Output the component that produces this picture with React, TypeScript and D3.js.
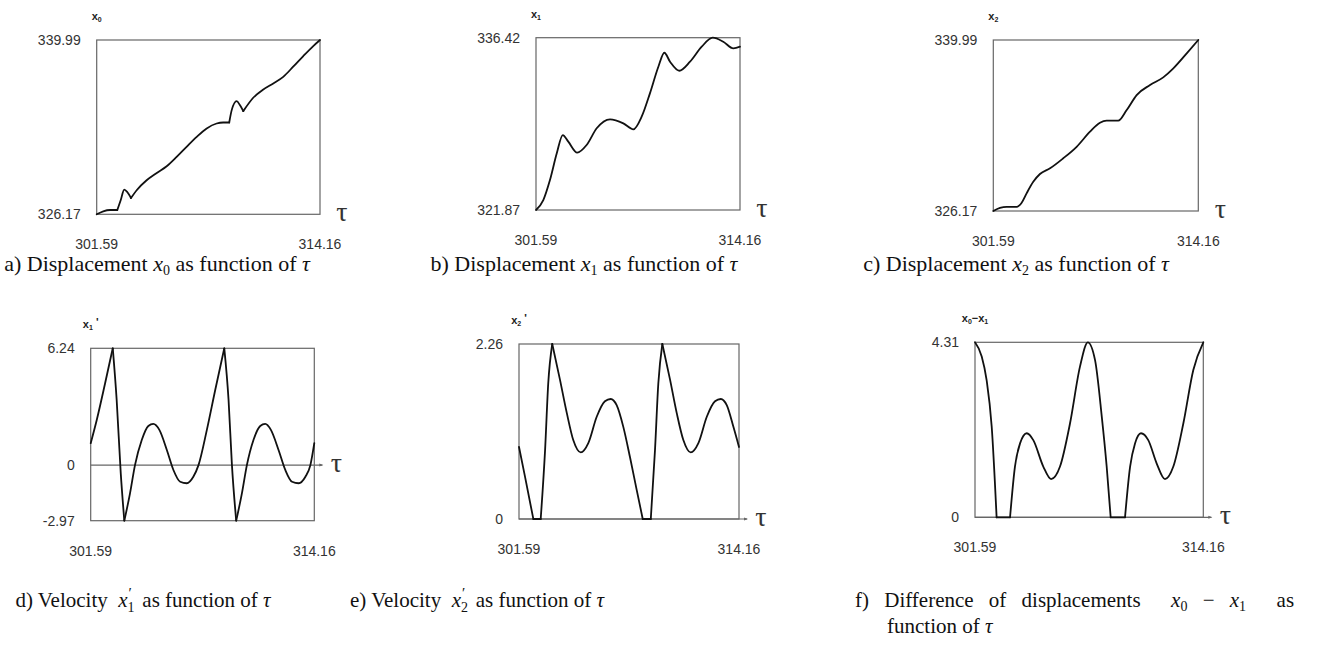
import React from 'react';
import * as d3 from 'd3';

type Pt = [number, number];

// tau range shown on every panel
const tauDomain: Pt = [301.59, 314.16];
const tauTicks = [301.59, 314.16];

// a) displacement x0
const x0Data: Pt[] = [
  [301.59, 326.17], [301.96, 326.41], [302.34, 326.51], [302.75, 326.51],
  [302.94, 327.28], [303.14, 328.13], [303.31, 327.94], [303.52, 327.46],
  [303.84, 328.08], [304.40, 328.87], [304.97, 329.45], [305.53, 329.98],
  [306.09, 330.72], [306.65, 331.52], [307.22, 332.31], [307.78, 332.98],
  [308.34, 333.37], [308.71, 333.45], [309.05, 333.45], [309.19, 334.43],
  [309.47, 335.14], [309.65, 334.83], [309.84, 334.35], [310.40, 335.41],
  [310.97, 336.07], [311.53, 336.55], [312.09, 337.07], [312.65, 337.87],
  [313.22, 338.72], [313.78, 339.51], [314.16, 339.99],
];
const x0Corners = [302.75, 303.52, 309.05, 309.84];
const x0Ticks = [326.17, 339.99];

// b) displacement x1
const x1Data: Pt[] = [
  [301.59, 321.87], [302.04, 322.71], [302.45, 324.40], [302.87, 326.66],
  [303.24, 328.20], [303.58, 327.64], [304.13, 326.71], [304.71, 327.36],
  [305.33, 328.77], [306.15, 329.53], [306.97, 329.19], [307.59, 328.68],
  [308.10, 329.75], [308.61, 331.72], [309.13, 333.97], [309.50, 335.15],
  [309.85, 334.39], [310.42, 333.63], [311.08, 334.39], [311.80, 335.66],
  [312.48, 336.42], [313.13, 336.08], [313.75, 335.52], [314.16, 335.66],
];
const x1Corners: number[] = [];
const x1Ticks = [321.87, 336.42];

// c) displacement x2
const x2Data: Pt[] = [
  [301.59, 326.17], [302.00, 326.43], [302.41, 326.51], [303.02, 326.51],
  [303.33, 326.84], [303.64, 327.62], [304.04, 328.53], [304.45, 329.16],
  [305.07, 329.62], [305.88, 330.43], [306.70, 331.36], [307.52, 332.58],
  [308.13, 333.30], [308.54, 333.47], [309.25, 333.47], [309.77, 334.33],
  [310.38, 335.54], [311.20, 336.35], [312.01, 336.97], [312.63, 337.70],
  [313.45, 338.91], [314.16, 339.99],
];
const x2Corners: number[] = [];
const x2Ticks = [326.17, 339.99];

// d) velocity x1'
const v1Data: Pt[] = [
  [301.59, 1.17], [301.93, 2.41], [302.40, 4.37], [302.83, 6.24],
  [303.05, 3.48], [303.28, -0.44], [303.48, -2.97], [303.80, -1.51],
  [304.08, 0.0], [304.46, 1.34], [304.83, 2.09], [305.11, 2.2],
  [305.45, 1.88], [305.87, 0.81], [306.24, -0.26], [306.62, -0.89],
  [306.99, -0.97], [307.36, -0.62], [307.65, 0.0], [308.12, 1.88],
  [308.59, 4.01], [309.10, 6.24], [309.34, 3.48], [309.53, 0.0],
  [309.77, -2.97], [310.09, -1.51], [310.37, 0.0], [310.74, 1.34],
  [311.12, 2.09], [311.40, 2.2], [311.72, 1.88], [312.15, 0.81],
  [312.53, -0.26], [312.91, -0.89], [313.28, -0.97], [313.66, -0.62],
  [313.94, 0.0], [314.16, 1.17],
];
const v1Corners = [302.83, 303.48, 309.10, 309.77];
const v1Ticks = [-2.97, 0, 6.24];

// e) velocity x2'
const v2Data: Pt[] = [
  [301.59, 0.93], [301.93, 0.55], [302.41, 0], [302.83, 0],
  [303.08, 0.89], [303.26, 1.75], [303.49, 2.26], [303.93, 1.8],
  [304.32, 1.37], [304.69, 1.02], [305.12, 0.86], [305.55, 0.98],
  [306.03, 1.32], [306.50, 1.52], [306.83, 1.55], [307.17, 1.47],
  [307.55, 1.19], [307.93, 0.8], [308.32, 0.37], [308.66, 0],
  [309.12, 0], [309.36, 0.89], [309.55, 1.75], [309.78, 2.26],
  [310.22, 1.8], [310.60, 1.37], [310.98, 1.02], [311.40, 0.86],
  [311.84, 0.98], [312.32, 1.32], [312.79, 1.52], [313.12, 1.55],
  [313.46, 1.47], [313.84, 1.19], [314.16, 0.93],
];
const v2Corners = [302.41, 302.83, 303.49, 308.66, 309.12, 309.78];
const v2Ticks = [0, 2.26];

// f) difference x0 - x1
const dxData: Pt[] = [
  [301.59, 4.31], [301.96, 3.96], [302.23, 3.38], [302.51, 2.23],
  [302.78, 0], [303.52, 0], [303.79, 1.25], [304.07, 1.82],
  [304.44, 2.07], [304.80, 1.9], [305.35, 1.25], [305.78, 0.94],
  [306.27, 1.25], [306.82, 2.31], [307.37, 3.71], [307.80, 4.31],
  [308.20, 3.87], [308.57, 2.48], [308.84, 1.25], [309.06, 0],
  [309.85, 0], [310.13, 1.25], [310.40, 1.82], [310.73, 2.07],
  [311.13, 1.9], [311.59, 1.33], [312.05, 0.94], [312.51, 1.25],
  [313.06, 2.31], [313.61, 3.63], [314.16, 4.31],
];
const dxCorners = [302.78, 303.52, 309.06, 309.85];
const dxTicks = [0, 4.31];

const SANS = 'Liberation Sans, Arial, sans-serif';
const SERIF = 'Liberation Serif, Times New Roman, serif';

const splitAt = (pts: Pt[], corners: number[]) => {
  const segs: Pt[][] = [[]];
  pts.forEach(p => {
    segs[segs.length - 1].push(p);
    if (corners.includes(p[0])) segs.push([p]);
  });
  return segs.filter(s => s.length > 1);
};

const fmt = (v: number) => (v === 0 ? '0' : v.toFixed(2));

const Panel = ({ data, corners, ticks, box, name, axisAtZero }: any) => {
  const xs = d3.scaleLinear().domain(tauDomain).range([box.l, box.r]);
  const ys = d3.scaleLinear().domain([ticks[0], ticks[ticks.length - 1]]).range([box.b, box.t]);
  const line = d3.line<Pt>().x(p => xs(p[0])).y(p => ys(p[1])).curve(d3.curveMonotoneX);
  const segs = splitAt(data, corners);
  const zeroY = ys(0);
  return (
    <g>
      <rect x={box.l} y={box.t} width={box.r - box.l} height={box.b - box.t}
        fill="none" stroke="#666" strokeWidth={1.2} />
      {axisAtZero && (
        <g>
          <line x1={box.l} x2={box.r + 8} y1={zeroY} y2={zeroY} stroke="#666" strokeWidth={1.2} />
          <path d={`M${box.r + 5},${zeroY - 1.5}L${box.r + 9},${zeroY}L${box.r + 5},${zeroY + 1.5}Z`} fill="#666" />
        </g>
      )}
      <text x={box.r + 22} y={(axisAtZero ? zeroY : box.b) + 7} textAnchor="middle"
        fontFamily={SERIF} fontSize={28} fill="#333">τ</text>
      {segs.map((s, i) => (
        <path key={i} d={line(s) || ''} fill="none" stroke="#111" strokeWidth={1.8}
          strokeLinejoin="round" strokeLinecap="round" />
      ))}
      {ticks.map((t: number) => (
        <text key={t} x={box.l - 16} y={ys(t) + 5} textAnchor="end"
          fontFamily={SANS} fontSize={14} fill="#333">{fmt(t)}</text>
      ))}
      {tauTicks.map(t => (
        <text key={t} x={xs(t)} y={box.b + 35} textAnchor="middle"
          fontFamily={SANS} fontSize={14} fill="#333">{fmt(t)}</text>
      ))}
      <text x={box.l} y={box.t - 20} textAnchor="middle" fontFamily={SANS} fontSize={11}
        fontWeight={600} fill="#222">{name}</text>
    </g>
  );
};

const sub = (s: string) => <tspan fontSize={7} dy={2}>{s}</tspan>;

const panels = [
  { key: 'a', data: x0Data, corners: x0Corners, ticks: x0Ticks, box: { l: 96.7, r: 320, t: 40, b: 214.3 },
    name: <>x{sub('0')}</> },
  { key: 'b', data: x1Data, corners: x1Corners, ticks: x1Ticks, box: { l: 536, r: 740, t: 37.7, b: 210 },
    name: <>x{sub('1')}</> },
  { key: 'c', data: x2Data, corners: x2Corners, ticks: x2Ticks, box: { l: 993.3, r: 1198.3, t: 40, b: 211 },
    name: <>x{sub('2')}</> },
  { key: 'd', data: v1Data, corners: v1Corners, ticks: v1Ticks, box: { l: 90.7, r: 314.3, t: 348.3, b: 520.7 },
    name: <>x{sub('1')}<tspan dy={-4}> '</tspan></>, axisAtZero: true },
  { key: 'e', data: v2Data, corners: v2Corners, ticks: v2Ticks, box: { l: 519, r: 739, t: 344, b: 519 },
    name: <>x{sub('2')}<tspan dy={-4}> '</tspan></>, axisAtZero: true },
  { key: 'f', data: dxData, corners: dxCorners, ticks: dxTicks, box: { l: 975, r: 1203.3, t: 342.3, b: 517.3 },
    name: <>x{sub('0')}<tspan dy={-2}>−x</tspan>{sub('1')}</>, axisAtZero: true },
];

const It = ({ children }: any) => <tspan fontStyle="italic">{children}</tspan>;
const Sb = ({ children }: any) => <tspan fontSize={14} dy={4}>{children}</tspan>;

// x with subscript and a prime above it, then the rest of the line
const Prime = ({ s }: { s: string }) => (
  <>
    <It>x</It><tspan fontSize={14} dy={5}>{s}</tspan>
    <tspan dx={-6} dy={-14} fontSize={15}>′</tspan>
    <tspan dy={9}>{'  as function of '}</tspan><It>τ</It>
  </>
);

export default function App() {
  return (
    <svg width={1322} height={646} style={{ position: 'absolute', left: 0, top: 0, background: '#fff' }}>
      {panels.map(p => <Panel key={p.key} {...p} />)}
      <g fontFamily={SERIF} fill="#111">
        <g fontSize={22}>
          <text xmlSpace="preserve" x={157} y={271} textAnchor="middle">a) Displacement <It>x</It><Sb>0</Sb><tspan dy={-4}> as function of </tspan><It>τ</It></text>
          <text xmlSpace="preserve" x={584} y={271} textAnchor="middle">b) Displacement <It>x</It><Sb>1</Sb><tspan dy={-4}> as function of </tspan><It>τ</It></text>
          <text xmlSpace="preserve" x={1016} y={271} textAnchor="middle">c) Displacement <It>x</It><Sb>2</Sb><tspan dy={-4}> as function of </tspan><It>τ</It></text>
        </g>
        <g fontSize={21}>
          <text xmlSpace="preserve" x={143} y={607} textAnchor="middle">d) Velocity  <Prime s="1" /></text>
          <text xmlSpace="preserve" x={477} y={607} textAnchor="middle">e) Velocity  <Prime s="2" /></text>
          <text xmlSpace="preserve" x={855} y={607} wordSpacing={10}>f) Difference of displacements  <It>x</It><Sb>0</Sb><tspan dy={-4}> − </tspan><It>x</It><Sb>1</Sb><tspan dy={-4}>  as</tspan></text>
          <text x={887} y={633}>function of <It>τ</It></text>
        </g>
      </g>
    </svg>
  );
}
